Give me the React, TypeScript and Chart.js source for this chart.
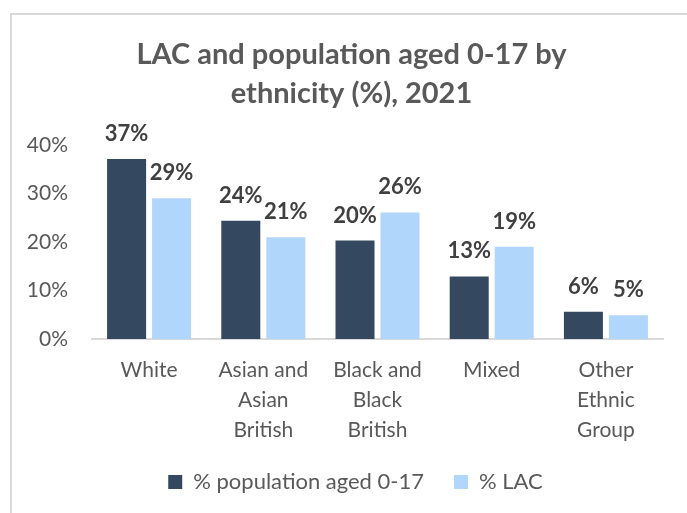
import React, { useEffect, useRef } from "react";
import { Chart, registerables } from "chart.js";

Chart.register(...registerables);

const categories: (string | string[])[] = [
  "White",
  ["Asian and", "Asian", "British"],
  ["Black and", "Black", "British"],
  "Mixed",
  ["Other", "Ethnic", "Group"],
];
const populationAged0to17 = [37.1, 24.4, 20.3, 12.9, 5.6];
const lacShare = [29.0, 21.0, 26.1, 19.0, 4.9];
const seriesNames = ["% population aged 0-17", "% LAC"];
const titleLines = ["LAC and population aged 0-17 by", "ethnicity (%), 2021"];
const yTicks = [0, 10, 20, 30, 40];

const FONT = "Lato, 'Liberation Sans', sans-serif";
const FRAME_SHIFT = 24;

const valueLabels = {
  id: "valueLabels",
  afterDatasetsDraw(chart: any) {
    const ctx = chart.ctx;
    ctx.save();
    ctx.font = `bold 22px ${FONT}`;
    ctx.fillStyle = "#404040";
    ctx.textAlign = "center";
    ctx.textBaseline = "alphabetic";
    chart.data.datasets.forEach((ds: any, i: number) => {
      chart.getDatasetMeta(i).data.forEach((bar: any, j: number) => {
        ctx.fillText(Math.round(ds.data[j]) + "%", bar.x, bar.y - 18);
      });
    });
    ctx.restore();
  },
};

// Title centred over the chart frame
const frameTitle = {
  id: "frameTitle",
  afterDraw(chart: any) {
    const ctx = chart.ctx;
    ctx.save();
    ctx.font = `bold 29px ${FONT}`;
    ctx.fillStyle = "#595959";
    ctx.textAlign = "center";
    ctx.textBaseline = "middle";
    const cx = (chart.chartArea.left + chart.chartArea.right) / 2 - 26;
    titleLines.forEach((line, i) => {
      ctx.fillText(line, cx, 55 + i * 39);
    });
    ctx.restore();
  },
};

// Centre the legend under the frame rather than the canvas
const shiftLegend = {
  id: "shiftLegend",
  afterLayout(chart: any) {
    if (chart.legend) {
      chart.legend.left += FRAME_SHIFT;
      chart.legend.right += FRAME_SHIFT;
    }
  },
};

export default function App() {
  const ref = useRef<HTMLCanvasElement>(null);
  useEffect(() => {
    if (!ref.current) return;
    const chart = new Chart(ref.current, {
      type: "bar",
      data: {
        labels: categories,
        datasets: [
          {
            label: seriesNames[0],
            data: populationAged0to17,
            backgroundColor: "#34485F",
            barPercentage: 0.867,
            categoryPercentage: 0.788,
          },
          {
            label: seriesNames[1],
            data: lacShare,
            backgroundColor: "#B0D6FC",
            barPercentage: 0.867,
            categoryPercentage: 0.788,
          },
        ],
      },
      options: {
        responsive: false,
        animation: false,
        devicePixelRatio: 1,
        layout: { padding: { left: 0, right: 24, top: 145, bottom: 10 } },
        plugins: {
          title: { display: false },
          legend: {
            position: "bottom",
            labels: {
              color: "#595959",
              font: { family: FONT, size: 22 },
              boxWidth: 14,
              boxHeight: 14,
              padding: 30,
            },
          },
          tooltip: { enabled: false },
        },
        scales: {
          x: {
            grid: { display: false, drawTicks: false },
            border: { display: true, color: "#D9D9D9", width: 2 },
            afterFit: (s: any) => {
              s.height = 102;
            },
            ticks: {
              color: "#595959",
              font: { family: FONT, size: 21, lineHeight: 1.43 },
              padding: 16,
              maxRotation: 0,
              autoSkip: false,
            },
          },
          y: {
            min: 0,
            max: 40,
            grid: { display: false, drawTicks: false },
            border: { display: false },
            afterFit: (s: any) => {
              s.width = 92;
            },
            afterBuildTicks: (s: any) => {
              s.ticks = yTicks.map((v) => ({ value: v }));
            },
            ticks: {
              color: "#595959",
              font: { family: FONT, size: 21 },
              padding: 24,
              callback: (v: any) => v + "%",
            },
          },
        },
      },
      plugins: [valueLabels, frameTitle, shiftLegend],
    });
    return () => chart.destroy();
  }, []);
  return (
    <div style={{ position: "fixed", left: 0, top: 0, width: 687, height: 513, background: "#fff", overflow: "hidden" }}>
      <canvas ref={ref} width={687} height={513} style={{ position: "absolute", left: 0, top: 0, width: 687, height: 513 }} />
      <div
        style={{
          position: "absolute",
          left: 10,
          top: 13,
          width: 700,
          height: 520,
          borderTop: "2px solid #D9D9D9",
          borderLeft: "2px solid #D9D9D9",
          pointerEvents: "none",
        }}
      />
    </div>
  );
}
